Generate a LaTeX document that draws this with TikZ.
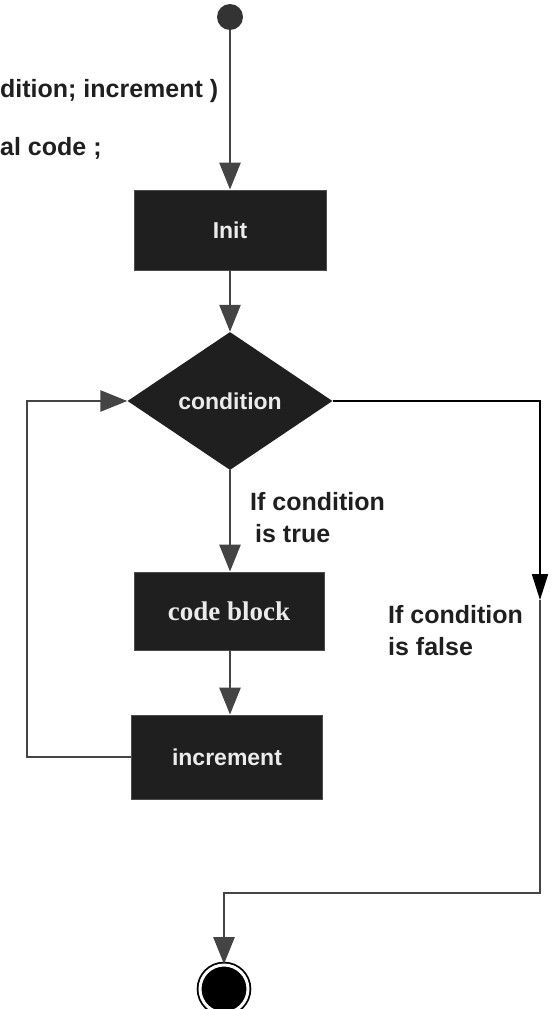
\documentclass[tikz,border=0pt]{standalone}
\usepackage{fontspec}
\setmainfont{Liberation Serif}
\setsansfont{Liberation Sans}
\usepackage{tikz}
\usetikzlibrary{shapes.geometric,arrows.meta}
\definecolor{boxfill}{HTML}{1F1F1F}
\definecolor{linegray}{HTML}{444444}

\begin{document}
\begin{tikzpicture}[x=1pt, y=1pt,
	flow/.style={draw=linegray, line width=2.7pt, -{Triangle[length=27pt,width=21pt]}},
	box/.style={rectangle, fill=boxfill, draw=gray!60!black, line width=0.8pt, text=white!92!black, minimum width=192pt, minimum height=80pt, inner sep=0pt, font=\fontsize{23}{27}\selectfont\sffamily\bfseries},
	lbl/.style={inner sep=0pt, text=black!88, align=left, font=\fontsize{25}{32}\selectfont\sffamily\bfseries}]
	\useasboundingbox (0,0) rectangle (552,-1009);
	\node [lbl, anchor=base west] (forline) at (0,-97) {dition; increment )};
	\node [lbl, anchor=base west] (codeline) at (0,-155) {al code ;};
	\node [circle, fill=black!80, minimum size=26pt, inner sep=0pt] (start) at (230,-17) {};
	\node [box] (init) at (230,-230) {Init};
	\node [diamond, fill=boxfill, text=white!92!black, minimum width=205pt, minimum height=138pt, inner sep=0pt, font=\fontsize{23}{27}\selectfont\sffamily\bfseries] (cond) at (230,-401) {condition};
	\node [box, minimum width=190pt, minimum height=78pt, font=\fontsize{27}{30}\selectfont\rmfamily\bfseries] (code) at (229,-611) {code block};
	\node [box, minimum width=191pt, minimum height=84pt] (incr) at (227,-757) {increment};
	\node [circle, fill=black, draw=black, line width=1.8pt, double=white, double distance=3pt, minimum size=48pt, inner sep=0pt] (end) at (224,-989) {};
	\coordinate (loopl) at (27,-401);
	\coordinate (fmid) at (540,-600);
	\coordinate (fcorner) at (540,-893);
	\draw[flow] (start) -- (start |- init.north);
	\draw[flow] (init.south) -- (init.south |- cond.north);
	\draw[flow] (cond.south) -- (cond.south |- code.north);
	\draw[flow] (cond.south |- code.south) -- (cond.south |- incr.north);
	\draw[flow] (incr.west) -| (loopl) -- (cond.west);
	\draw[flow, draw=black, line width=2pt, -{Triangle[length=26pt,width=16pt]}] (cond.east) -| (fmid);
	\draw[flow] (fmid) -- (fcorner) -| (end);
	\node [lbl, anchor=north west] (truelbl) at (250,-492) {If condition\\\hspace{5pt}is true};
	\node [lbl, anchor=north west] (falselbl) at (388,-605) {If condition\\is false};
\end{tikzpicture}
\end{document}
